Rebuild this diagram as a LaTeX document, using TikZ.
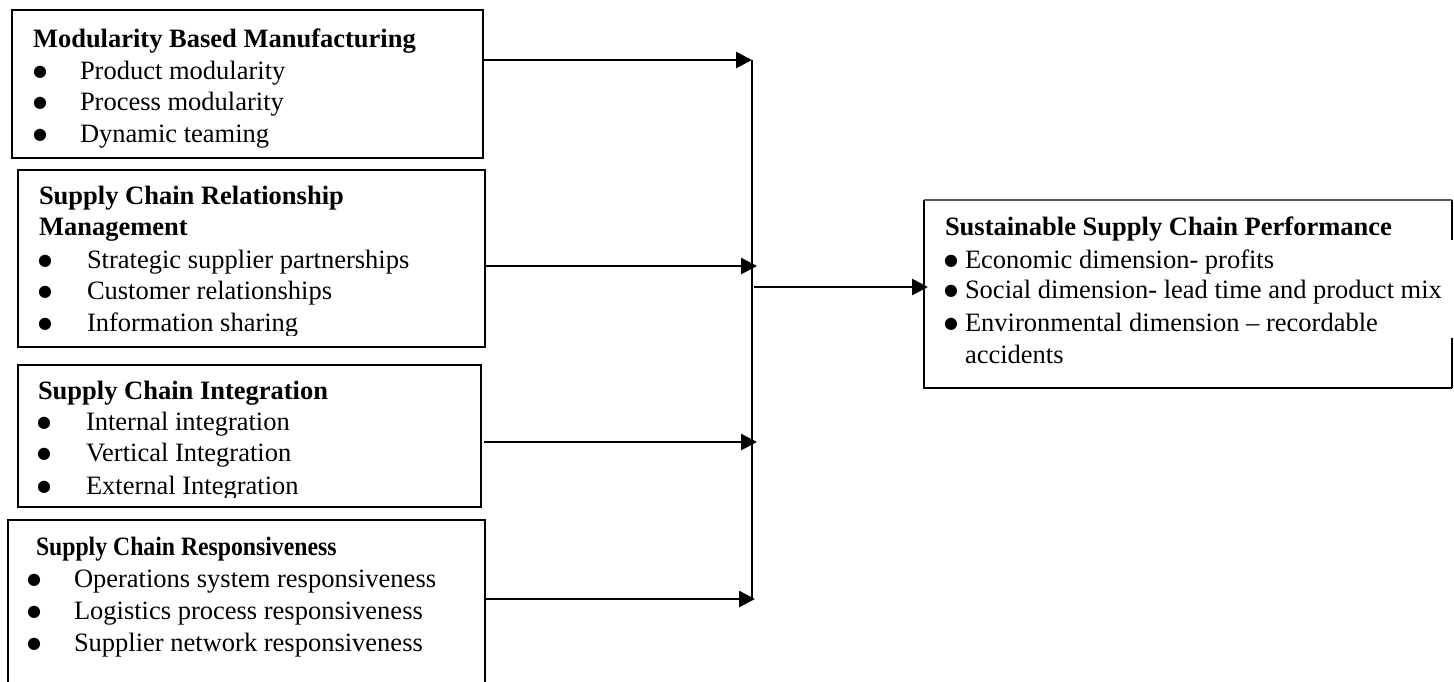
\documentclass[tikz,border=0pt]{standalone}
\usepackage{fontspec}
\usepackage{graphicx}
\setmainfont{Liberation Serif}
\newfontfamily\bulfont{DejaVu Sans}
\usetikzlibrary{arrows.meta}
\newsavebox{\bulbox}
\sbox{\bulbox}{\bulfont\fontsize{16}{16}\selectfont ●}
% bullet centred at distance #1 to the left of the text start
\newcommand{\bul}[1]{\llap{\makebox[0pt][c]{\raisebox{\dimexpr 6.8pt-0.5\ht\bulbox+0.5\dp\bulbox\relax}{\usebox{\bulbox}}}\hspace*{#1}}}
\begin{document}
\begin{tikzpicture}[x=1pt,y=-1pt,
  box/.style={draw,line width=2pt,rectangle,inner sep=0pt,outer sep=0pt,anchor=north west},
  txt/.style={anchor=base west,inner sep=0pt,outer sep=0pt,font=\fontsize{26.5}{30.5}\selectfont},
  arr/.style={line width=2.7pt,-{Triangle[length=16pt,width=16pt]}},
  vline/.style={line width=1.7pt},
  edge/.style={line width=2pt}]
\useasboundingbox (0,0) rectangle (1454,681);
\clip (0,0) rectangle (1454,681);

% boxes
\node[box,minimum width=471pt,minimum height=148pt] (b1) at (12,10) {};
\node[box,minimum width=467pt,minimum height=177pt] (b2) at (18,170) {};
\node[box,minimum width=463pt,minimum height=142pt] (b3) at (18,365) {};
\node[box,minimum width=477pt,minimum height=180pt] (b4) at (8,520) {};
\node[inner sep=0pt,outer sep=0pt,minimum width=528pt,minimum height=188pt,anchor=north west] (rb) at (924,200) {};
\draw[line width=1.2pt,black!65] (rb.north west) -- (rb.north east);
\draw[edge] (rb.north west) -- (rb.south west) -- (rb.south east);
\draw[edge] (rb.north east) -- (rb.north east |- 0,240);
\draw[edge] (rb.south east) -- (rb.south east |- 0,338);

% box 1 text
\node[txt] (b1t) at (33,47) {\bfseries Modularity Based Manufacturing};
\node[txt] (b1a) at (80,79) {\bul{40pt}Product modularity};
\node[txt] (b1b) at (80,110) {\bul{40pt}Process modularity};
\node[txt] (b1c) at (80,142) {\bul{40pt}Dynamic teaming};

% box 2 text
\begin{scope}
\clip (0,0) rectangle (1454,335);
\node[txt] (b2t) at (39,204) {\bfseries Supply Chain Relationship};
\node[txt] (b2u) at (39,235) {\bfseries Management};
\node[txt] (b2a) at (87,268) {\bul{42pt}Strategic supplier partnerships};
\node[txt] (b2b) at (87,299) {\bul{42pt}Customer relationships};
\node[txt] (b2c) at (87,331) {\bul{42pt}Information sharing};
\end{scope}

% box 3 text
\begin{scope}
\clip (0,0) rectangle (1454,497);
\node[txt] (b3t) at (38,399) {\bfseries Supply Chain Integration};
\node[txt] (b3a) at (86,430) {\bul{42pt}Internal integration};
\node[txt] (b3b) at (86,461) {\bul{42pt}Vertical Integration};
\node[txt] (b3c) at (86,494) {\bul{42pt}External Integration};
\end{scope}

% box 4 text
\node[txt] (b4t) at (36,555) {\bfseries\scalebox{0.895}[1]{Supply Chain Responsiveness}};
\node[txt] (b4a) at (74,587) {\bul{40pt}Operations system responsiveness};
\node[txt] (b4b) at (74,619) {\bul{40pt}Logistics process responsiveness};
\node[txt] (b4c) at (74,651) {\bul{40pt}Supplier network responsiveness};

% right box text
\node[txt] (rt) at (945,235) {\bfseries Sustainable Supply Chain Performance};
\node[txt] (ra) at (965,268) {\bul{14pt}Economic dimension- profits};
\node[txt] (rbb) at (965,298) {\bul{14pt}Social dimension- lead time and product mix};
\node[txt] (rc) at (965,331) {\bul{14pt}Environmental dimension – recordable};
\node[txt] (rd) at (965,363) {accidents};

% connectors
\coordinate (e1) at (752,60);
\coordinate (e2) at (757,266);
\coordinate (e3) at (757,442);
\coordinate (e4) at (755,599);
\coordinate (o) at (754,287);
\draw[arr] (b1.east |- e1) -- (e1);
\draw[arr] (b2.east |- e2) -- (e2);
\draw[arr] ([xshift=3pt]b3.east |- e3) -- (e3);
\draw[arr] ([xshift=-1pt]b4.east |- e4) -- (e4);
\draw[vline] (e1) -- (e1 |- e4);
\draw[arr] (o) -- ([xshift=4pt]rb.west |- o);
\end{tikzpicture}
\end{document}
